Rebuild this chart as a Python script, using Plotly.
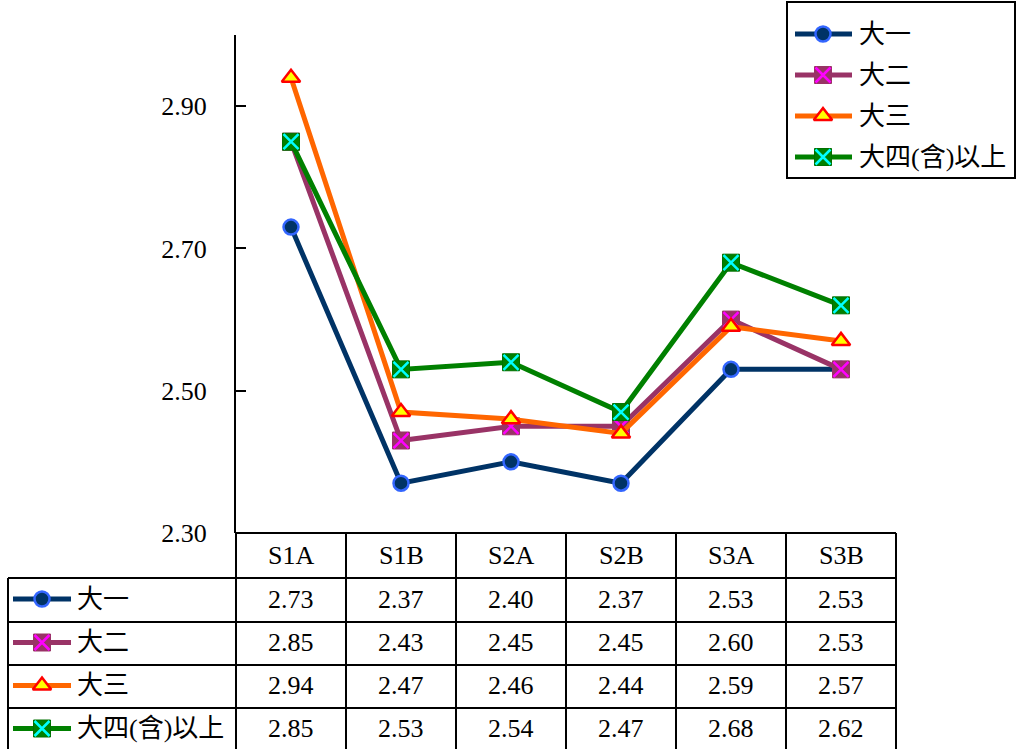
import plotly.graph_objects as go

# ---- data -------------------------------------------------------------
categories = ["S1A", "S1B", "S2A", "S2B", "S3A", "S3B"]
series_names = ["大一", "大二", "大三", "大四(含)以上"]
freshman = [2.73, 2.37, 2.40, 2.37, 2.53, 2.53]
sophomore = [2.85, 2.43, 2.45, 2.45, 2.60, 2.53]
junior = [2.94, 2.47, 2.46, 2.44, 2.59, 2.57]
senior_plus = [2.85, 2.53, 2.54, 2.47, 2.68, 2.62]
y_ticks = [2.30, 2.50, 2.70, 2.90]

series_values = [freshman, sophomore, junior, senior_plus]

# ---- styling ----------------------------------------------------------
W, H = 1017, 749
FONT = "Liberation Serif, Noto Sans CJK TC, serif"
FS = 26

styles = [
    dict(line="#003366", symbol="circle", fill="#003366", edge="#3366FF", cross=None),
    dict(line="#993366", symbol="square", fill="#993366", edge="#993366", cross="#FF00FF"),
    dict(line="#FF6600", symbol="triangle-up", fill="#FFFF00", edge="#FF0000", cross=None),
    dict(line="#008000", symbol="square", fill="#008000", edge="#007000", cross="#00FFFF"),
]
MSIZE = {"circle": 15, "square": 17, "triangle-up": 16}

# pixel frame of the plotting area and the data table
PLOT_L, PLOT_R, PLOT_T, PLOT_B = 236, 896, 35, 533
COL_W = (PLOT_R - PLOT_L) / len(categories)
TABLE_L = 8
HEADER_B = 578
ROW_EDGES = [578, 622, 665, 708, 751]

fig = go.Figure()


def add_marker_trace(x, y, st, xa, ya, name):
    fig.add_trace(go.Scatter(
        x=x, y=y, mode="markers", xaxis=xa, yaxis=ya, showlegend=False,
        hoverinfo="skip" if xa == "x2" else None, name=name,
        marker=dict(symbol=st["symbol"], size=MSIZE[st["symbol"]], color=st["fill"],
                    line=dict(color=st["edge"], width=2.5 if st["cross"] is None else 1)),
    ))
    if st["cross"]:
        fig.add_trace(go.Scatter(
            x=x, y=y, mode="markers", xaxis=xa, yaxis=ya, showlegend=False,
            hoverinfo="skip", name=name,
            marker=dict(symbol="x-thin", size=MSIZE["square"] - 2, color=st["cross"],
                        line=dict(color=st["cross"], width=2.5)),
        ))


# ---- series lines in the main plot ------------------------------------
for name, vals, st in zip(series_names, series_values, styles):
    fig.add_trace(go.Scatter(
        x=categories, y=vals, mode="lines", name=name, showlegend=False,
        line=dict(color=st["line"], width=5),
    ))
    add_marker_trace(categories, vals, st, "x", "y", name)


# ---- helper: a line+marker key drawn in pixel space --------------------
def add_key(x0, x1, xm, yc, st, name):
    fig.add_trace(go.Scatter(
        x=[x0, x1], y=[yc, yc], mode="lines", xaxis="x2", yaxis="y2",
        showlegend=False, hoverinfo="skip", name=name,
        line=dict(color=st["line"], width=5),
    ))
    add_marker_trace([xm], [yc], st, "x2", "y2", name)


shapes = []
annotations = []


def hline(x0, x1, y, w=2):
    shapes.append(dict(type="line", xref="x2", yref="y2", x0=x0, x1=x1, y0=y, y1=y,
                       line=dict(color="black", width=w)))


def vline(x, y0, y1, w=2):
    shapes.append(dict(type="line", xref="x2", yref="y2", x0=x, x1=x, y0=y0, y1=y1,
                       line=dict(color="black", width=w)))


# ---- data table under the plot -----------------------------------------
hline(PLOT_L, PLOT_R, PLOT_B)
for e in ROW_EDGES[:-1]:
    hline(TABLE_L, PLOT_R, e)
vline(TABLE_L, HEADER_B, H)
for i in range(len(categories) + 1):
    vline(PLOT_L + i * COL_W, PLOT_B, H)

for i, cat in enumerate(categories):
    annotations.append(dict(x=i, y=(PLOT_B + HEADER_B) / 2, xref="x", yref="y2",
                            text=cat, showarrow=False, font=dict(family=FONT, size=FS, color="black")))

for r, (name, vals, st) in enumerate(zip(series_names, series_values, styles)):
    yc = (ROW_EDGES[r] + ROW_EDGES[r + 1]) / 2 - 1
    add_key(13, 71, 42, yc, st, name)
    annotations.append(dict(x=75, y=yc, xref="x2", yref="y2", text=name, xanchor="left",
                            showarrow=False, font=dict(family=FONT, size=FS, color="black")))
    for i, v in enumerate(vals):
        annotations.append(dict(x=i, y=yc, xref="x", yref="y2", text=f"{v:.2f}",
                                showarrow=False, font=dict(family=FONT, size=FS, color="black")))

# ---- legend box in the top-right corner --------------------------------
LEG_L, LEG_R, LEG_T, LEG_B = 787, 1015, 2, 178
shapes.append(dict(type="rect", xref="x2", yref="y2", x0=LEG_L, x1=LEG_R, y0=LEG_T, y1=LEG_B,
                   line=dict(color="black", width=2), fillcolor="rgba(0,0,0,0)"))
legend_rows = [34, 75, 116, 157]
for name, st, yc in zip(series_names, styles, legend_rows):
    add_key(795, 852, 823, yc, st, name)
    annotations.append(dict(x=857, y=yc, xref="x2", yref="y2", text=name, xanchor="left",
                            showarrow=False, font=dict(family=FONT, size=FS, color="black")))

# ---- layout ---------------------------------------------------------------
fig.update_layout(
    template="none",
    width=W, height=H,
    margin=dict(l=0, r=0, t=0, b=0, pad=0, autoexpand=False),
    paper_bgcolor="white", plot_bgcolor="rgba(0,0,0,0)",
    showlegend=False,
    font=dict(family=FONT, size=FS, color="black"),
    xaxis=dict(domain=[PLOT_L / W, PLOT_R / W], range=[-0.5, len(categories) - 0.5],
               type="category", showticklabels=False, showgrid=False, zeroline=False,
               showline=False, ticks="", fixedrange=True, automargin=False),
    yaxis=dict(domain=[1 - PLOT_B / H, 1 - PLOT_T / H], range=[2.30, 3.00],
               tickvals=y_ticks, ticktext=[f"{t:.2f}" for t in y_ticks],
               ticks="inside", ticklen=10, tickwidth=2, tickcolor="black",
               showline=True, linecolor="black", linewidth=2, showgrid=False,
               zeroline=False, ticklabelstandoff=22, fixedrange=True, automargin=False,
               tickfont=dict(family=FONT, size=FS, color="black")),
    xaxis2=dict(domain=[0, 1], range=[0, W], anchor="y2", visible=False, fixedrange=True,
                automargin=False),
    yaxis2=dict(domain=[0, 1], range=[H, 0], anchor="x2", visible=False, fixedrange=True,
                automargin=False),
    shapes=shapes,
    annotations=annotations,
)

fig.write_html("out.html")
